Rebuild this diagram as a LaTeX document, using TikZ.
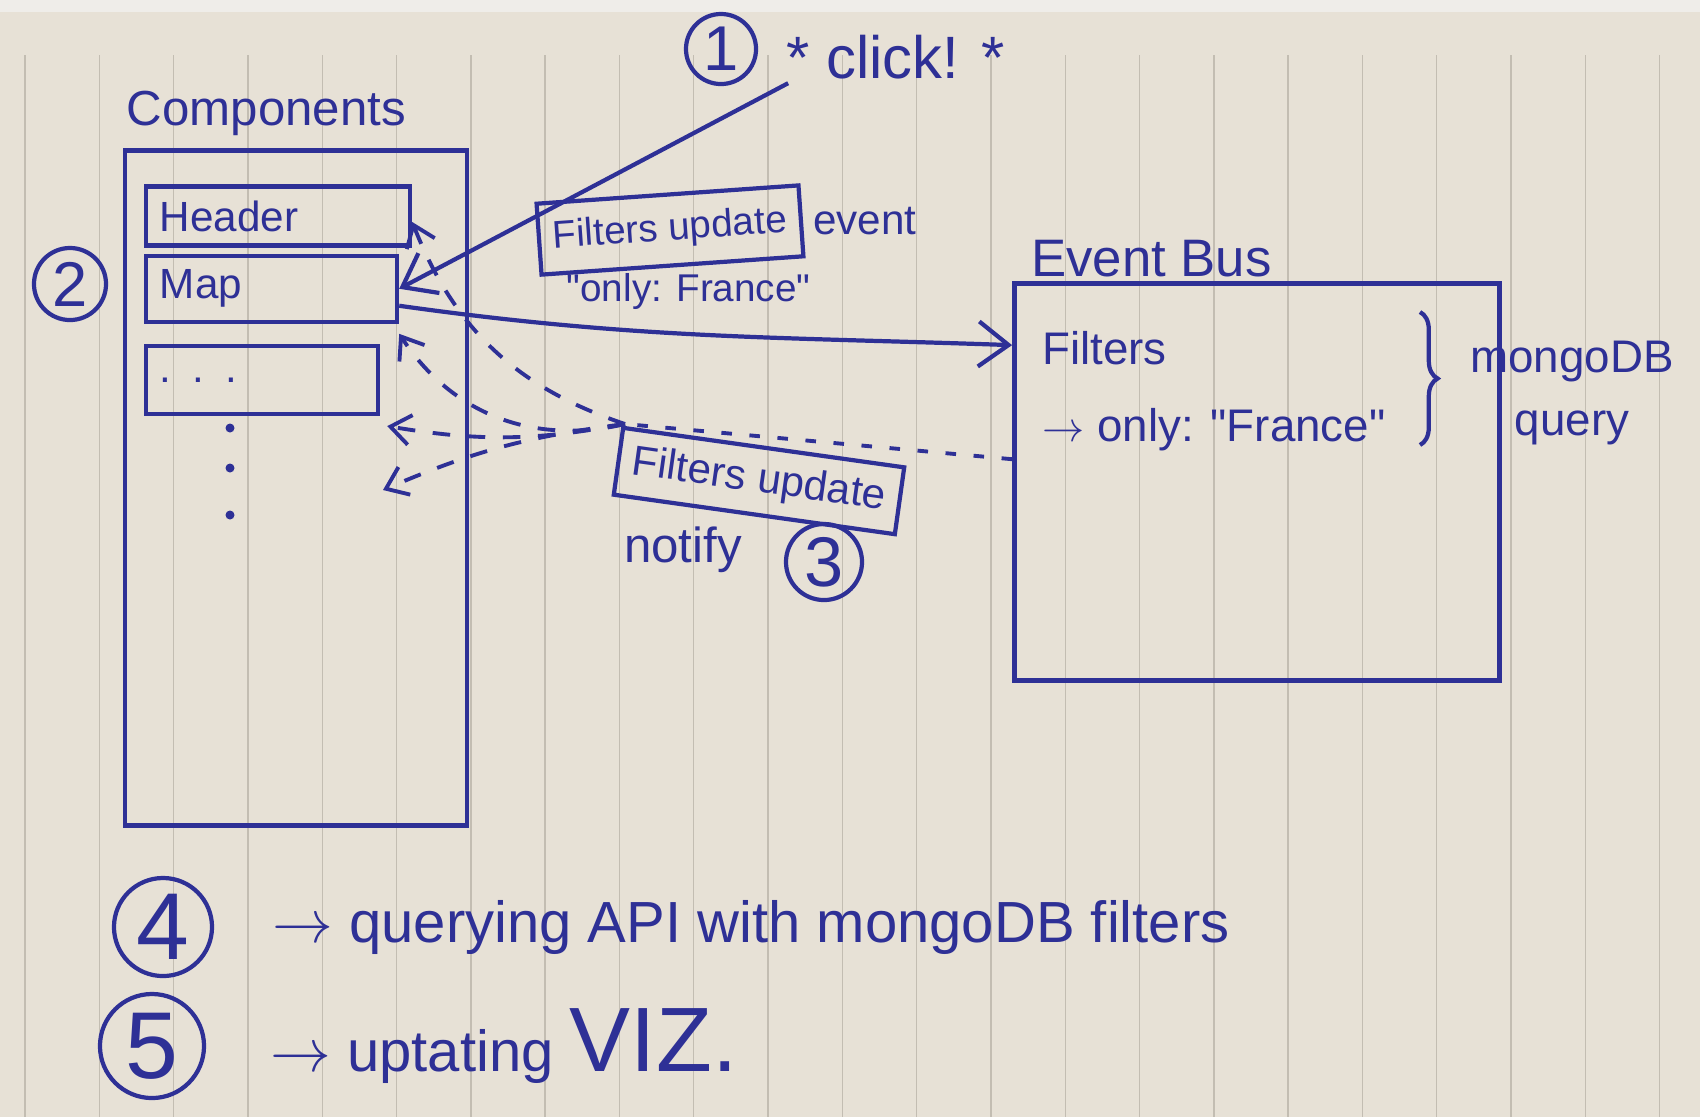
\documentclass[tikz,border=0pt]{standalone}
\usepackage{fontspec}
\setmainfont{Liberation Sans}
\usepackage{tikz}
\usetikzlibrary{arrows.meta, positioning, calc, decorations.pathreplacing}
\usepackage{amsmath}
\definecolor{inkBlue}{HTML}{2E3096}
\definecolor{paperCream}{HTML}{E7E1D6}
\definecolor{paperEdge}{HTML}{EFEDE9}
\definecolor{paperLine}{HTML}{C3BDB2}
\tikzset{
  arrowInk/.style={-{Straight Barb[length=3mm, width=4.5mm]}, inkBlue, line width=1.2pt},
  arrowDash/.style={-{Straight Barb[length=2mm, width=3mm]}, inkBlue, line width=1.1pt,
                    dash pattern=on 5pt off 5pt},
  lineDash/.style={inkBlue, line width=1.1pt, dash pattern=on 3pt off 5pt},
  boxInk/.style={rectangle, draw=inkBlue, line width=1.2pt, text=inkBlue,
                 align=left, inner sep=4pt, font=\fontsize{12}{14}\selectfont},
  frameInk/.style={rectangle, draw=inkBlue, line width=1.3pt, inner sep=0pt},
  textInk/.style={text=inkBlue, inner sep=1pt, font=\fontsize{12}{14}\selectfont},
  titleInk/.style={text=inkBlue, inner sep=1pt, font=\fontsize{15}{18}\selectfont},
  numCirc/.style={circle, draw=inkBlue, line width=1.2pt, text=inkBlue, inner sep=0pt,
                  minimum size=#1, font=\fontsize{18}{20}\selectfont},
  numCirc/.default=0.72cm,
  braceInk/.style={decorate, decoration={brace, amplitude=5pt}, inkBlue, line width=1.2pt},
}
\begin{document}
\begin{tikzpicture}[x=0.01cm, y=-0.01cm]
    % paper
    \fill[paperCream] (0,0) rectangle (1700,1117);
    \fill[paperEdge] (0,0) rectangle (1700,12);
    \foreach \i in {0,...,22}
      \draw[paperLine, line width=0.4pt] ({25+74.3*\i},55) -- ({25+74.3*\i},1117);

    % components column
    \node[frameInk, minimum width=3.42cm, minimum height=6.75cm] (comp) at (296,488) {};
    \node[titleInk, font=\fontsize{14}{16}\selectfont, anchor=south west, yshift=0.08cm]
      (compTitle) at (comp.north west) {Components};
    \node[boxInk, text width=2.36cm, minimum height=0.58cm] (header) at (278,216) {Header};
    \node[boxInk, text width=2.23cm, minimum height=0.6cm, anchor=north west, yshift=-0.06cm]
      (map) at (header.south west) {Map};
    \node[boxInk, text width=2.04cm, minimum height=0.68cm, anchor=north west, yshift=-0.2cm]
      (more) at (map.south west) {. . .};
    \foreach \y in {428,468,515}
      \fill[inkBlue] (230,\y) circle (4.5);
    \node[numCirc] (n2) at (70,284) {2};

    % click
    \node[numCirc=0.7cm] (n1) at (721,49) {1};
    \node[textInk, font=\fontsize{17}{20}\selectfont, right=0.24cm of n1, yshift=-0.08cm]
      (click) {* click! *};
    \draw[arrowInk] ([xshift=0.06cm]click.south west) -- (map.east);

    % filters update event
    \node[boxInk, rotate=4, align=center, font=\fontsize{11}{13}\selectfont,
          minimum width=2.43cm, minimum height=0.71cm] (evBox) at (670,230) {Filters update};
    \node[textInk, right=0.06cm of evBox] (evWord) {event};
    \node[textInk, font=\fontsize{11}{13}\selectfont, below=0.02cm of evBox, xshift=0.16cm]
      (evOnly) {\textquotedbl only: France\textquotedbl};

    % event bus
    \node[frameInk, minimum width=4.85cm, minimum height=3.97cm] (bus) at (1257,482) {};
    \node[titleInk, anchor=south west] (busTitle) at ([xshift=0.15cm]bus.north west) {Event Bus};
    \node[textInk, font=\fontsize{13}{22}\selectfont, align=left, anchor=north west]
      (busFilt) at ([xshift=0.26cm, yshift=-0.46cm]bus.north west)
      {Filters\\$\rightarrow$ only: \textquotedbl France\textquotedbl};
    \draw[braceInk] (1420,312) -- (1420,445);
    \node[textInk, font=\fontsize{13}{18}\selectfont, align=center] (mongo) at (1572,393)
      {mongoDB\\query};
    \draw[arrowInk] ([yshift=-0.17cm]map.east) to[out=-8, in=178] ([yshift=-0.64cm]bus.north west);

    % filters update notify
    \node[boxInk, rotate=-8, align=center, minimum width=2.8cm, minimum height=0.6cm]
      (notify) at (759,481) {Filters update};
    \node[textInk, font=\fontsize{14}{16}\selectfont] (notifyWord) at (683,550) {notify};
    \node[numCirc=0.76cm, font=\fontsize{20}{22}\selectfont] (n3) at (824,562) {3};
    \coordinate (fan) at (625,424);
    \coordinate (hdIn) at ([yshift=-0.06cm]header.east);
    \coordinate (mapIn) at ([yshift=-0.1cm]map.south east);
    \coordinate (moreIn) at ([xshift=0.07cm, yshift=-0.1cm]more.south east);
    \coordinate (listIn) at (383,490);
    \draw[lineDash] ([yshift=-1.78cm]bus.north west) -- (fan);
    \foreach \t/\b in {hdIn/25, mapIn/35, moreIn/10, listIn/-8}
      \draw[arrowDash] (fan) to[bend left=\b] (\t);

    % steps
    \node[numCirc=0.98cm, font=\fontsize{27}{29}\selectfont] (n4) at (163,927) {4};
    \node[textInk, font=\fontsize{16.5}{20}\selectfont, right=0.54cm of n4] (step4)
      {$\rightarrow$ querying API with mongoDB filters};
    \node[numCirc=1.04cm, font=\fontsize{27}{29}\selectfont] (n5) at (152,1046) {5};
    \node[textInk, font=\fontsize{16.5}{20}\selectfont, right=0.6cm of n5] (step5)
      {$\rightarrow$ uptating {\fontsize{26}{28}\selectfont VIZ.}};
  \end{tikzpicture}
\end{document}
